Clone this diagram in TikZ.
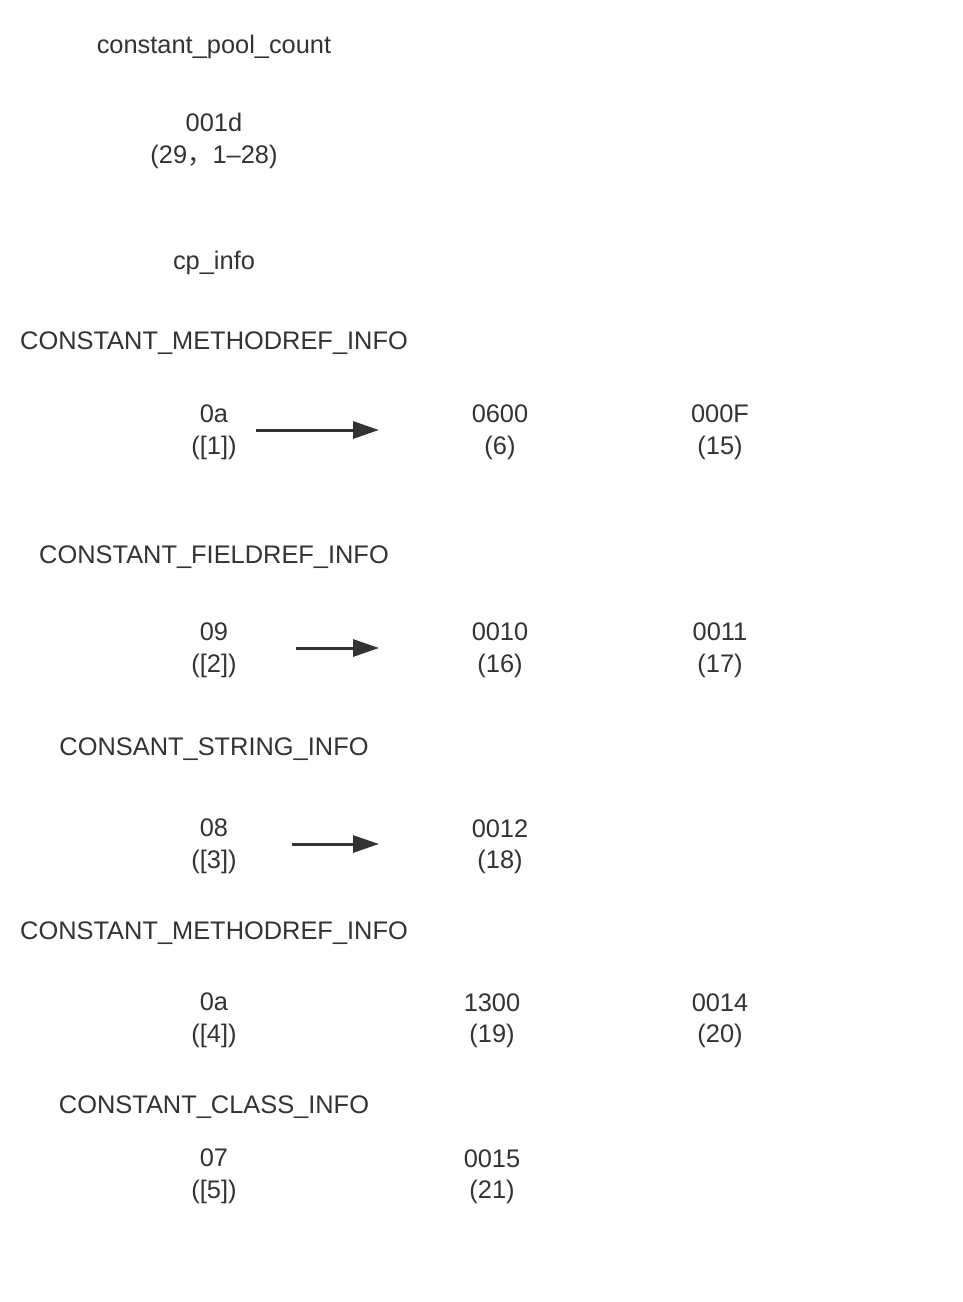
\documentclass[tikz,border=0pt]{standalone}
\usepackage{fontspec}
\setmainfont{Liberation Sans}
\newfontfamily\cjk{Noto Sans CJK SC}
\usetikzlibrary{arrows.meta}
\definecolor{ink}{HTML}{333333}
\begin{document}
\begin{tikzpicture}[x=1pt,y=-1pt,
  lbl/.style={text=ink,font=\fontsize{25.4}{31.5}\selectfont,align=center,inner sep=0pt},
  arr/.style={draw=ink,line width=3pt,-{Triangle[length=26pt,width=17pt]}}]
\useasboundingbox[fill=white] (0,0) rectangle (962,1302);
\node[lbl] (cpc) at (214,47) {constant\_pool\_count};
\node[lbl] (cnt) at (214,141) {001d\\(29{\cjk ，}1–28)};
\node[lbl] (cpi) at (214,263) {cp\_info};
% row 1
\node[lbl] (t1) at (214,343) {CONSTANT\_METHODREF\_INFO};
\node[lbl] (a1) at (214,432.5) {0a\\([1])};
\node[lbl] (b1) at (500,432.5) {0600\\(6)};
\node[lbl] (c1) at (720,432.5) {000F\\(15)};
\coordinate (s1) at (256,430);
\coordinate (e1) at (379,430);
\draw[arr] (s1) -- (e1);
% row 2
\node[lbl] (t2) at (214,557) {CONSTANT\_FIELDREF\_INFO};
\node[lbl] (a2) at (214,650.5) {09\\([2])};
\node[lbl] (b2) at (500,650.5) {0010\\(16)};
\node[lbl] (c2) at (720,650.5) {0011\\(17)};
\coordinate (s2) at (296,648);
\coordinate (e2) at (379,648);
\draw[arr] (s2) -- (e2);
% row 3
\node[lbl] (t3) at (214,749) {CONSANT\_STRING\_INFO};
\node[lbl] (a3) at (214,846.5) {08\\([3])};
\node[lbl] (b3) at (500,846.5) {0012\\(18)};
\coordinate (s3) at (292,844);
\coordinate (e3) at (379,844);
\draw[arr] (s3) -- (e3);
% row 4
\node[lbl] (t4) at (214,933) {CONSTANT\_METHODREF\_INFO};
\node[lbl] (a4) at (214,1020.5) {0a\\([4])};
\node[lbl] (b4) at (492,1020.5) {1300\\(19)};
\node[lbl] (c4) at (720,1020.5) {0014\\(20)};
% row 5
\node[lbl] (t5) at (214,1107) {CONSTANT\_CLASS\_INFO};
\node[lbl] (a5) at (214,1176.5) {07\\([5])};
\node[lbl] (b5) at (492,1176.5) {0015\\(21)};
\end{tikzpicture}
\end{document}
